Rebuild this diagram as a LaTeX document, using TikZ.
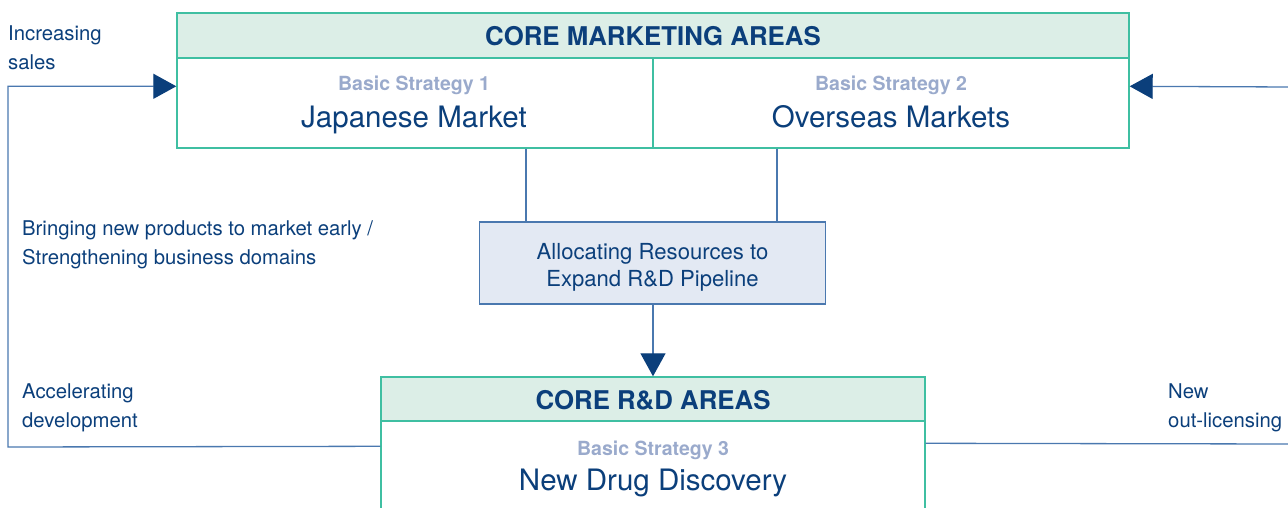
\documentclass[tikz,border=0pt]{standalone}
\usepackage{fontspec}
\setmainfont{TeX Gyre Heros}
\usetikzlibrary{arrows.meta,calc}
\definecolor{dblue}{HTML}{0B3F7B}
\definecolor{lblue}{HTML}{4A78AF}
\definecolor{teal}{HTML}{3FBFA2}
\definecolor{hfill}{HTML}{DCEEE7}
\definecolor{gblue}{HTML}{9AAACC}
\definecolor{mfill}{HTML}{E3E9F3}
\tikzset{
  hdr/.style={draw=teal,line width=1.4pt,fill=hfill,inner sep=0pt},
  body/.style={draw=teal,line width=1.4pt,fill=white,inner sep=0pt},
  midbox/.style={draw=lblue,line width=1.3pt,fill=mfill,inner sep=0pt},
  hdrtxt/.style={text=dblue,font=\fontsize{25.8}{30}\selectfont\bfseries,inner sep=0pt,anchor=base},
  subtxt/.style={text=gblue,font=\fontsize{19.5}{23}\selectfont\bfseries,inner sep=0pt,anchor=base},
  bigtxt/.style={text=dblue,font=\fontsize{29.5}{34}\selectfont,inner sep=0pt,anchor=base},
  lbl/.style={text=dblue,font=\fontsize{20.3}{29}\selectfont,inner sep=0pt,anchor=base west,align=left},
  conn/.style={draw=lblue,line width=1.3pt},
  tip/.style={-{Triangle[length=23pt,width=25pt,color=dblue]}}
}
\begin{document}
\begin{tikzpicture}[x=1pt,y=-1pt]
\useasboundingbox (0,0) rectangle (1288,508);
\clip (0,0) rectangle (1288,508);
% top box
\node[hdr,minimum width=952pt,minimum height=45pt] (mhead) at (653,35.5) {};
\node[body,minimum width=476pt,minimum height=90pt] (jp) at (415,103) {};
\node[body,minimum width=476pt,minimum height=90pt] (ov) at (891,103) {};
\node[hdrtxt] (mht) at (653,45.3) {CORE MARKETING AREAS};
\node[subtxt] (s1) at (414,90.5) {Basic Strategy 1};
\node[bigtxt] (jmt) at (414,127.5) {Japanese Market};
\node[subtxt] (s2) at (891,90.5) {Basic Strategy 2};
\node[bigtxt] (omt) at (891,127.5) {Overseas Markets};
% middle box
\node[midbox,minimum width=346pt,minimum height=82pt] (alloc) at (652.5,263) {};
\node[text=dblue,font=\fontsize{22.1}{26.7}\selectfont,align=center,inner sep=0pt,anchor=base] (allt) at (652.5,286) {Allocating Resources to\\Expand R\&D Pipeline};
% bottom box
\node[hdr,minimum width=544pt,minimum height=44pt] (rhead) at (653,399) {};
\node[body,minimum width=544pt,minimum height=110pt] (nd) at (653,476) {};
\node[hdrtxt] (rht) at (653,409.3) {CORE R\&D AREAS};
\node[subtxt] (s3) at (653,455.5) {Basic Strategy 3};
\node[bigtxt] (ndt) at (653,490) {New Drug Discovery};
% connectors
\coordinate (j1) at ($(jp.south)+(111,0)$);
\coordinate (o1) at ($(ov.south)+(-114,0)$);
\draw[conn] (j1) -- (j1 |- alloc.north);
\draw[conn] (o1) -- (o1 |- alloc.north);
\draw[conn,tip] (rhead.north |- alloc.south) -- (rhead.north);
\coordinate (lb) at ($(nd.north west)+(0,26)$);
\coordinate (lt) at ($(jp.north west)+(0,29)$);
\coordinate (lc) at (8,447);
\draw[conn,tip] (lb) -- (lc) -- (lc |- lt) -- (lt);
\coordinate (rb) at ($(nd.north east)+(0,23)$);
\coordinate (re) at (1290,444);
\draw[conn] (rb) -- (re);
\coordinate (rt) at ($(ov.north east)+(0,29)$);
\coordinate (rs) at (1290,87);
\draw[conn,tip] (rs) -- (rt);
% labels
\node[lbl] (inc) at (8,69.5) {\fontsize{20.3}{28}\selectfont Increasing\\sales};
\node[lbl] (bring) at (22,264) {\fontsize{20.3}{30}\selectfont Bringing new products to market early /\\Strengthening business domains};
\node[lbl] (acc) at (22,427) {Accelerating\\development};
\node[lbl] (nol) at (1168,427) {New\\out-licensing};
\end{tikzpicture}
\end{document}
